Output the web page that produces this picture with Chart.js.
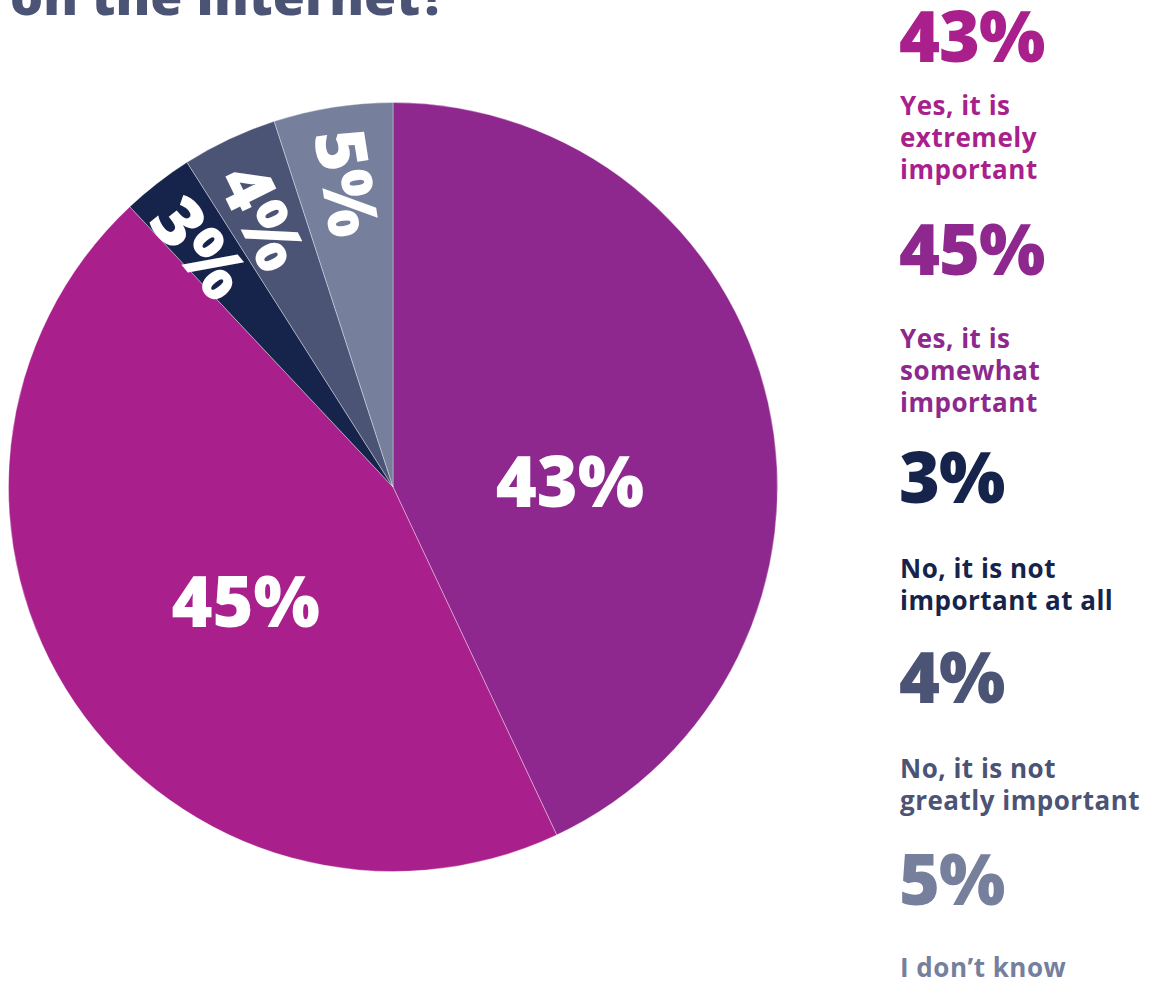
<!DOCTYPE html>
<html>
<head>
<meta charset="utf-8">
<script src="https://cdn.jsdelivr.net/npm/chart.js@4.4.1/dist/chart.umd.min.js"></script>
<style>
  body { margin: 0; background: #fff; font-family: "Open Sans", sans-serif; }
  #page { position: relative; width: 1151px; height: 982px; overflow: hidden; }
  #title { position: absolute; left: 10px; top: -31px; font-size: 52px; line-height: 52px; font-weight: 800; color: #4b5475; white-space: nowrap; }
  #pie-wrap { position: absolute; left: 8px; top: 102px; width: 770px; height: 770px; }
  .num { position: absolute; left: 899px; font-size: 70px; line-height: 70px; font-weight: 800; letter-spacing: -1px; white-space: nowrap; }
  .txt { position: absolute; left: 900px; font-size: 26px; line-height: 32px; font-weight: 700; letter-spacing: 0.5px; white-space: nowrap; }
</style>
</head>
<body>
<div id="page">
  <div id="title">on the Internet?</div>
  <div id="pie-wrap"><canvas id="pie" width="770" height="770"></canvas></div>
  <div id="legend"></div>
</div>
<script>
// answers, clockwise from 12 o'clock
const answers = [
    'Yes, it is extremely important',
    'Yes, it is somewhat important',
    'No, it is not important at all',
    'No, it is not greatly important',
    "I don\u2019t know"
];
const shares = [43, 45, 3, 4, 5];
const sliceColors = ['#8e288e', '#a91f8c', '#16244b', '#4b5475', '#767f9c'];

// legend column on the right
const legendLines = [
    ['Yes, it is', 'extremely', 'important'],
    ['Yes, it is', 'somewhat', 'important'],
    ['No, it is not', 'important at all'],
    ['No, it is not', 'greatly important'],
    ["I don\u2019t know"]
];
const legendColors = ['#a91f8c', '#8e288e', '#16244b', '#4b5475', '#767f9c'];
const legendNumTop = [0, 213, 441, 641, 843];
const legendTxtTop = [89, 322, 552, 752, 951];

const legend = document.getElementById('legend');
shares.forEach((v, i) => {
    const n = document.createElement('div');
    n.className = 'num';
    n.style.top = legendNumTop[i] + 'px';
    n.style.color = legendColors[i];
    n.textContent = v + '%';
    legend.appendChild(n);

    const t = document.createElement('div');
    t.className = 'txt';
    t.style.top = legendTxtTop[i] + 'px';
    t.style.color = legendColors[i];
    t.innerHTML = legendLines[i].join('<br>');
    legend.appendChild(t);
});

// where each percentage sits inside its slice: radius fraction, angle nudge (deg), radial text or not
const labelPlace = [
    { r: 0.46, nudge: 11.6, radial: false },
    { r: 0.49, nudge: -4.4, radial: false },
    { r: 0.80, nudge: -1.5, radial: true },
    { r: 0.78, nudge: -1, radial: true },
    { r: 0.80, nudge: 0, radial: true }
];

const sliceLabels = {
    id: 'sliceLabels',
    afterDatasetsDraw(chart) {
        const ctx = chart.ctx;
        const meta = chart.getDatasetMeta(0);
        ctx.save();
        ctx.fillStyle = '#fff';
        ctx.font = '800 70px "Open Sans"';
        ctx.textAlign = 'center';
        ctx.textBaseline = 'middle';
        meta.data.forEach((arc, i) => {
            const p = labelPlace[i];
            const mid = (arc.startAngle + arc.endAngle) / 2 + p.nudge * Math.PI / 180;
            const rad = arc.outerRadius * p.r;
            const x = arc.x + Math.cos(mid) * rad;
            const y = arc.y + Math.sin(mid) * rad;
            ctx.save();
            ctx.translate(x, y);
            if (p.radial) ctx.rotate(mid + Math.PI);
            ctx.fillText(shares[i] + '%', 0, 3);
            ctx.restore();
        });
        ctx.restore();
    }
};

new Chart(document.getElementById('pie'), {
    type: 'pie',
    data: {
        labels: answers,
        datasets: [{
            data: shares,
            backgroundColor: sliceColors,
            borderColor: 'rgba(255,255,255,0.35)',
            borderWidth: 1
        }]
    },
    options: {
        responsive: false,
        animation: false,
        layout: { padding: 0 },
        plugins: { legend: { display: false }, tooltip: { enabled: false } }
    },
    plugins: [sliceLabels]
});
</script>
</body>
</html>
